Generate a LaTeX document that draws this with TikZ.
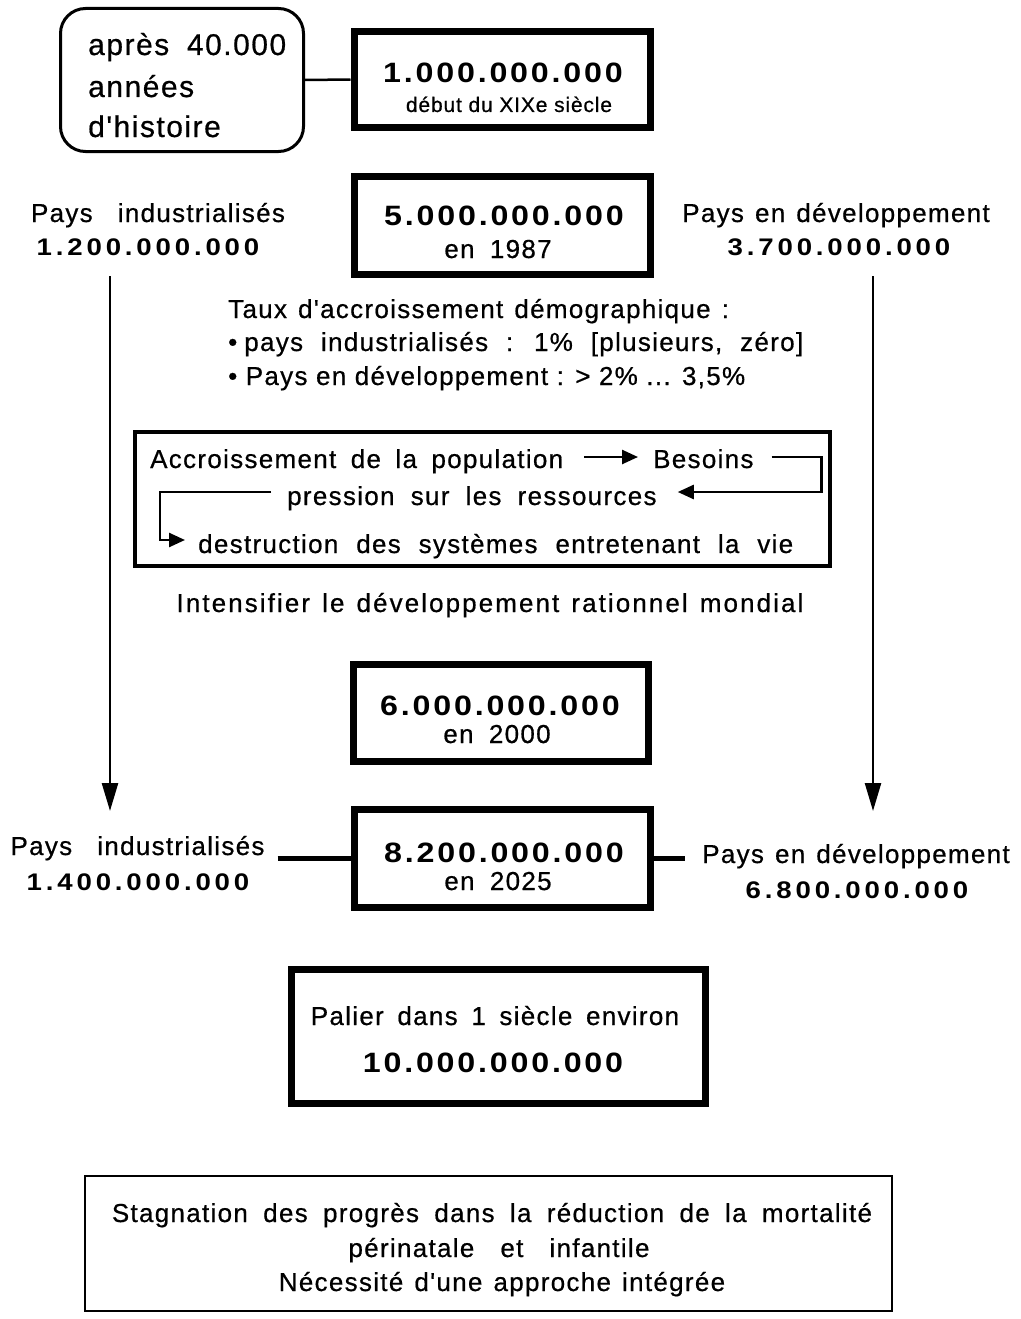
\documentclass[tikz,border=0pt]{standalone}
\usepackage{fontspec}
\setmainfont{Liberation Sans}
\newfontfamily\hv[LetterSpace=5,WordSpace=1.3,FakeBold=0.6]{Liberation Sans}
\newfontfamily\hvn[LetterSpace=10,FakeStretch=1.15]{Liberation Sans}
\newfontfamily\hvl[LetterSpace=16,FakeStretch=1.15]{Liberation Sans}
\newfontfamily\hvs[LetterSpace=4,FakeBold=0.6]{Liberation Sans}
\newcommand\wsp[1]{\spaceskip=\dimexpr #1\fontdimen2\font*10/13\relax}
\usetikzlibrary{arrows.meta,calc}
\begin{document}
\begin{tikzpicture}[x=1pt,y=-1pt,
  txt/.style={inner sep=0pt,anchor=base,font=\fontsize{26}{30}\selectfont\hv},
  txtl/.style={txt,anchor=base west},
  rtxt/.style={inner sep=0pt,anchor=base west,font=\fontsize{30}{34}\selectfont\hv\wsp{1.8}},
  small/.style={inner sep=0pt,anchor=base,font=\fontsize{21}{24}\selectfont\hvs},
  big/.style={inner sep=0pt,anchor=base,font=\fontsize{28}{34}\selectfont\hvn\bfseries},
  lab/.style={inner sep=0pt,anchor=base,font=\fontsize{24}{30}\selectfont\hvl\bfseries},
  thickbox/.style={draw,line width=7pt,inner sep=0pt},
  cyc/.style={line width=2.5pt,-{Triangle[length=16pt,width=14pt]}},
  bigarr/.style={line width=2.5pt,-{Triangle[length=28pt,width=16pt]}},
  link/.style={line width=2.5pt}
]
\useasboundingbox (0,0) rectangle (1020,1319);

% --- boxes ---
\node[draw,line width=3pt,rounded corners=25pt,minimum width=243pt,minimum height=143pt,inner sep=0pt] (rbox) at (182,80) {};
\node[thickbox,minimum width=296pt,minimum height=96pt] (box1) at (502,79.5) {};
\node[thickbox,minimum width=296pt,minimum height=98pt] (box2) at (502.5,225.5) {};
\node[draw,line width=4pt,minimum width=695pt,minimum height=134pt,inner sep=0pt] (cbox) at (482.5,499) {};
\node[thickbox,minimum width=295pt,minimum height=97pt] (box3) at (501,713) {};
\node[thickbox,minimum width=296pt,minimum height=98pt] (box4) at (502.5,858.5) {};
\node[thickbox,minimum width=414pt,minimum height=134pt] (box5) at (498,1036) {};
\node[draw,line width=2.5pt,minimum width=807pt,minimum height=135pt,inner sep=0pt] (box6) at (488.5,1243.5) {};

% --- texts ---
\node[rtxt] (ta) at (88,55) {après 40.000};
\node[rtxt] (tb) at (88,97) {années};
\node[rtxt] (tc) at (88,137) {d'histoire};

\node[big] (n1) at (503,83) {1.000.000.000};
\node[small] (s1) at (509,112) {début du XIXe siècle};

\node[big] (n2) at (504,225) {5.000.000.000};
\node[txt,font=\fontsize{26}{30}\selectfont\hv\wsp{1.8}] (e2) at (498,258) {en 1987};
\node[txt] (pi1) at (158,222) {Pays\hspace{14pt} industrialisés};
\node[lab] (v1) at (148,255) {1.200.000.000};
\node[txt] (pd1) at (836,222) {Pays en développement};
\node[lab] (v2) at (839,255) {3.700.000.000};

\node[txtl] (tx1) at (228,318) {Taux d'accroissement démographique :};
\node[txtl,font=\fontsize{26}{30}\selectfont\hv\wsp{2.1}] (tx2) at (228,351) {•\hspace{7pt}pays industrialisés : 1\% [plusieurs, zéro]};
\node[txtl,font=\fontsize{26}{30}\selectfont\hv\wsp{1.0}] (tx3) at (228,385) {• Pays en développement : > 2\% ... 3,5\%};

\node[txtl,font=\fontsize{26}{30}\selectfont\hv\wsp{1.7}] (c1) at (150,468) {Accroissement de la population};
\node[txtl] (c2) at (653,468) {Besoins};
\node[txtl,font=\fontsize{26}{30}\selectfont\hv\wsp{1.9}] (c3) at (287,505) {pression sur les ressources};
\node[txtl,font=\fontsize{26}{30}\selectfont\hv\wsp{2.1}] (c4) at (198,553) {destruction des systèmes entretenant la vie};

\node[txt,font=\fontsize{26}{30}\selectfont\hv\addfontfeature{LetterSpace=8}] (int) at (490,612) {Intensifier le développement rationnel mondial};

\node[big] (n3) at (500,715) {6.000.000.000};
\node[txt,font=\fontsize{26}{30}\selectfont\hv\wsp{1.8}] (e3) at (497,743) {en 2000};

\node[txt] (pi2) at (137.5,855) {Pays\hspace{14pt} industrialisés};
\node[lab] (v3) at (138,890) {1.400.000.000};
\node[big] (n4) at (504,862) {8.200.000.000};
\node[txt,font=\fontsize{26}{30}\selectfont\hv\wsp{1.8}] (e4) at (498,890) {en 2025};
\node[txt] (pd2) at (856,863) {Pays en développement};
\node[lab] (v4) at (857,898) {6.800.000.000};

\node[txt,font=\fontsize{26}{30}\selectfont\hv\wsp{1.6}] (p5) at (495,1025) {Palier dans 1 siècle environ};
\node[big] (n5) at (493,1072) {10.000.000.000};

\node[txt,font=\fontsize{26}{30}\selectfont\hv\wsp{1.8}] (g1) at (492,1222) {Stagnation des progrès dans la réduction de la mortalité};
\node[txt] (g2) at (499,1257) {périnatale\hspace{15pt} et\hspace{15pt} infantile};
\node[txt] (g3) at (502,1291) {Nécessité d'une approche intégrée};

% --- connectors ---
\draw[link] (rbox.east) -- (box1.west);
\coordinate (aL1) at (110,276);
\coordinate (aL2) at (110,811);
\coordinate (aR1) at (873,276);
\coordinate (aR2) at (873,811);
\draw[bigarr] (aL1) -- (aL2);
\draw[bigarr] (aR1) -- (aR2);

\draw[cyc] ($(c1.base east)+(21,-11)$) -- ($(c2.base west)+(-15,-11)$);
\draw[cyc] ($(c2.base east)+(18,-11)$) -- ++(50,0) |- ($(c3.base east)+(21,-13)$);
\draw[cyc] ($(c3.base west)+(-16,-13)$) -| ($(c4.base west)+(-38,-13)$) -- ($(c4.base west)+(-13,-13)$);

\draw[line width=5pt] ($(pi2.east |- box4.west)+(13,0)$) -- (box4.west);
\draw[line width=5pt] (box4.east) -- ($(pd2.west |- box4.east)+(-17,0)$);
\end{tikzpicture}
\end{document}
